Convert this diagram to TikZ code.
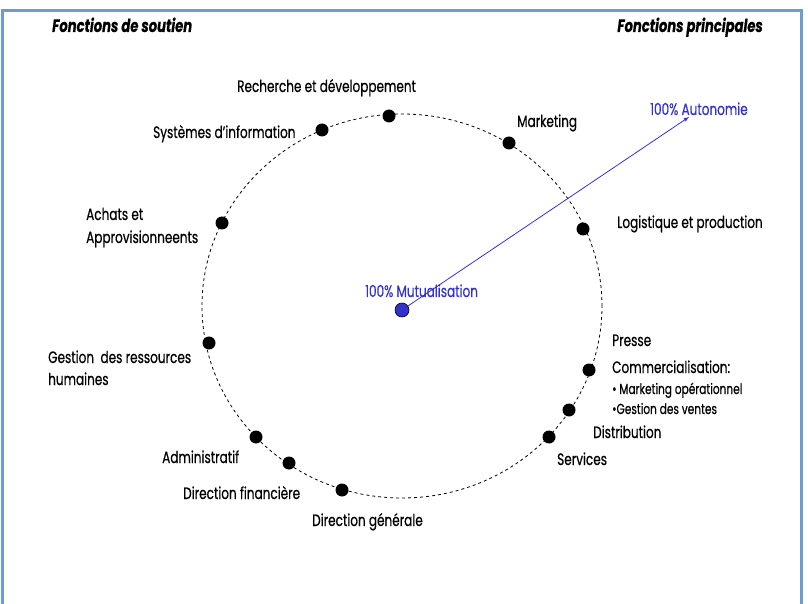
\documentclass[tikz,border=0pt]{standalone}
\usepackage{fontspec}
\setmainfont{Poppins}[FakeStretch=0.73, FakeBold=0.5]
\usepackage{tikz}
\usetikzlibrary{arrows,positioning}
\definecolor{mutblue}{RGB}{51,51,204}
\definecolor{framecol}{RGB}{110,155,210}

\begin{document}
\begin{tikzpicture}[
    x=1pt, y=1pt,
    dot/.style={circle, fill=black, minimum size=13pt, inner sep=0pt},
    lbl/.style={anchor=base west, inner sep=0pt, font=\fontsize{16.5}{19}\selectfont},
    sublbl/.style={lbl, font=\fontsize{14.5}{17}\selectfont},
    title/.style={anchor=base, inner sep=0pt, font=\fontsize{18}{21}\selectfont\bfseries\itshape},
    arrow/.style={-latex, mutblue, line width=0.8pt}
]
\useasboundingbox (0,0) rectangle (808,603);
\draw[framecol, line width=2.5pt] (2.5,-10) rectangle (801.5,592.5);

\node[title, anchor=base west] (soutien) at (52,571) {Fonctions de soutien};
\node[title, anchor=base east] (princ) at (763,571) {Fonctions principales};

% the ring
\draw[dash pattern=on 3pt off 3pt, line width=0.8pt] (402,297) ellipse (200pt and 192pt);

\node[dot] (rd) at (389,487) {};
\node[dot] (si) at (322,473) {};
\node[dot] (mk) at (509,460) {};
\node[dot] (lp) at (583,374) {};
\node[dot] (aa) at (222,380) {};
\node[dot] (grh) at (209,260) {};
\node[dot] (adm) at (256,166) {};
\node[dot] (dfin) at (289,140) {};
\node[dot] (dgen) at (342,113) {};
\node[dot] (serv) at (549,166) {};
\node[dot] (dist) at (569,193) {};
\node[dot] (pc) at (589,233) {};

\node[lbl] (rd-t) at (237,511) {Recherche et développement};
\node[lbl] (si-t) at (153,465) {Systèmes d’information};
\node[lbl] (mk-t) at (517,476) {Marketing};
\node[lbl] (lp-t) at (617,375) {Logistique et production};
\node[lbl] (aa-t) at (86,383) {Achats et};
\node[lbl] (aa-t2) at (86,360) {Approvisionneents};
\node[lbl] (grh-t) at (48,240) {Gestion\ \ des ressources};
\node[lbl] (grh-t2) at (48,218) {humaines};
\node[lbl] (pc-t) at (612,257) {Presse};
\node[lbl] (pc-t2) at (612,230) {Commercialisation:};
\node[sublbl] (pc-b1) at (612,209) {•\ Marketing opérationnel};
\node[sublbl] (pc-b2) at (612,189) {•Gestion des ventes};
\node[lbl] (dist-t) at (593,165) {Distribution};
\node[lbl] (serv-t) at (557,138) {Services};
\node[lbl] (adm-t) at (162,140) {Administratif};
\node[lbl] (dfin-t) at (183,104) {Direction financière};
\node[lbl] (dgen-t) at (312,77) {Direction générale};

% mutualisation -> autonomie
\node[dot, fill=mutblue, draw=black, line width=0.6pt, minimum size=14pt] (ctr) at (402,293) {};
\node[lbl, mutblue] (mut-t) at (365,306) {100\% Mutualisation};
\coordinate (auto) at (689,486);
\node[lbl, mutblue] (auto-t) at (650,488) {100\% Autonomie};
\draw[arrow] (ctr) -- (auto);
\end{tikzpicture}
\end{document}
